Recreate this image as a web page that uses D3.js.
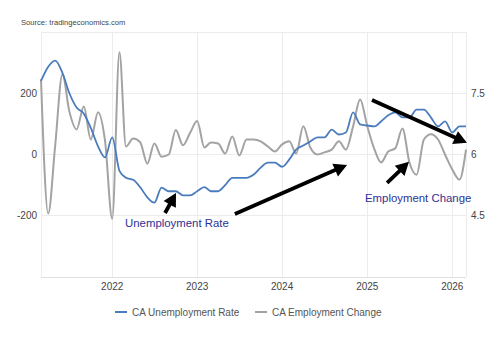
<!DOCTYPE html>
<html><head><meta charset="utf-8">
<script src="https://cdn.jsdelivr.net/npm/d3@7"></script>
<style>body{margin:0;background:#fff;}svg{display:block;font-family:"Liberation Sans",Arial,sans-serif;}</style>
</head><body>
<svg id="c" width="497" height="339"></svg>
<script>
const startMonth = "2021-03";
const unemploymentRate = [7.8,8.15,8.3,8.0,7.5,7.15,7.0,6.65,6.2,5.93,
 6.42,5.6,5.43,5.38,5.2,4.95,4.82,5.19,5.1,5.1,5.0,5.0,
 5.1,5.2,5.1,5.1,5.25,5.43,5.43,5.43,5.51,5.68,5.8,5.8,
 5.7,5.88,6.12,6.22,6.32,6.42,6.42,6.61,6.49,6.54,7.03,6.74,
 6.71,6.69,6.81,6.96,7.03,6.91,6.91,7.1,7.1,6.91,6.69,6.81,
 6.54,6.69,6.69];
const employmentChange = [246,-193,30,262,140,82,157,49,138,45,
 -210,334,26,52,40,-30,36,-7,0,80,30,70,
 109,23,39,36,3,59,-3,49,49,43,26,10,
 33,43,3,92,23,0,7,16,43,16,92,180,
 92,16,-26,10,20,85,-26,-66,49,66,49,0,
 -49,-82,16];
const leftTicks = [-200, 0, 200];
const rightTicks = [4.5, 6, 7.5];
const yearTicks = [2022, 2023, 2024, 2025, 2026];
const seriesNames = ["CA Unemployment Rate", "CA Employment Change"];
const annotations = [
  {text:"Unemployment Rate", date:"2022-02-25", value:-237},
  {text:"Employment Change", date:"2024-12-22", value:-155}
];
const arrows = [
  {from:["2022-08-16",-191], to:["2022-10-02",-126]},
  {from:["2023-06-12",-194], to:["2024-10-06",-34]},
  {from:["2025-03-27",-93], to:["2025-06-29",-24]},
  {from:["2025-01-21",178], to:["2026-03-05",38]}
];

const svg = d3.select("#c");
const parseM = d3.timeParse("%Y-%m");
const parseD = d3.timeParse("%Y-%m-%d");
const t0 = parseM(startMonth);
const dates = unemploymentRate.map((_, i) => d3.timeMonth.offset(t0, i));

const L = 41, R = 466, T = 32, B = 277;
const x = d3.scaleTime().domain([dates[0], dates[dates.length-1]]).range([L, R]);
const yL = d3.scaleLinear().domain([-400, 400]).range([B, T]);
const yR = d3.scaleLinear().domain([3, 9]).range([B, T]);

// source
svg.append("text").attr("x", 21).attr("y", 25).attr("font-size", 7.6).attr("fill", "#444")
  .text("Source: tradingeconomics.com");

// grid
const g = svg.append("g");
g.selectAll(".hg").data([-400,-200,0,200,400]).join("line")
  .attr("x1", L).attr("x2", R).attr("y1", d => yL(d)).attr("y2", d => yL(d))
  .attr("stroke", d => d === -400 ? "#e0e0e0" : "#ececec").attr("stroke-width", 1).attr("shape-rendering","crispEdges");
const yearDates = yearTicks.map(y => new Date(y, 0, 1));
g.selectAll(".vg").data([dates[0], ...yearDates, dates[dates.length-1]]).join("line")
  .attr("y1", T).attr("y2", B).attr("x1", d => x(d)).attr("x2", d => x(d))
  .attr("stroke", "#ececec").attr("stroke-width", 1).attr("shape-rendering","crispEdges");

// axes labels
svg.append("g").selectAll("text").data(leftTicks).join("text")
  .attr("x", 37).attr("y", d => yL(d) + 3.5).attr("text-anchor", "end")
  .attr("font-size", 10).attr("fill", "#444").text(d => d);
svg.append("g").selectAll("text").data(rightTicks).join("text")
  .attr("x", 471).attr("y", d => yR(d) + 3.5).attr("text-anchor", "start")
  .attr("font-size", 10).attr("fill", "#444").text(d => d);
svg.append("g").selectAll("text").data(yearDates).join("text")
  .attr("x", d => x(d)).attr("y", 290).attr("text-anchor", "middle")
  .attr("font-size", 10).attr("fill", "#444").text(d => d.getFullYear());

// lines
const lineR = d3.line().x((d, i) => x(dates[i])).y(d => yR(d)).curve(d3.curveMonotoneX);
const lineL = d3.line().x((d, i) => x(dates[i])).y(d => yL(d)).curve(d3.curveMonotoneX);
svg.append("path").attr("d", lineL(employmentChange)).attr("fill", "none")
  .attr("stroke", "#a3a3a3").attr("stroke-width", 2);
svg.append("path").attr("d", lineR(unemploymentRate)).attr("fill", "none")
  .attr("stroke", "#4a7bbd").attr("stroke-width", 1.8);

// arrows
function arrowPath(x1, y1, x2, y2) {
  const dx = x2 - x1, dy = y2 - y1, len = Math.hypot(dx, dy);
  const ux = dx / len, uy = dy / len, px = -uy, py = ux;
  const hl = 13, hw = 7, sw = 1.9;
  const bx = x2 - ux * hl, by = y2 - uy * hl;
  const pts = [
    [x1 + px*sw, y1 + py*sw], [bx + px*sw, by + py*sw], [bx + px*hw, by + py*hw],
    [x2, y2], [bx - px*hw, by - py*hw], [bx - px*sw, by - py*sw], [x1 - px*sw, y1 - py*sw]
  ];
  return "M" + pts.map(p => p.join(",")).join("L") + "Z";
}
svg.append("g").selectAll("path").data(arrows).join("path")
  .attr("d", d => arrowPath(x(parseD(d.from[0])), yL(d.from[1]), x(parseD(d.to[0])), yL(d.to[1])))
  .attr("fill", "#000");

svg.append("g").selectAll("text").data(annotations).join("text")
  .attr("x", d => x(parseD(d.date))).attr("y", d => yL(d.value))
  .attr("font-size", 11.4).attr("fill", "#2e3192").text(d => d.text);

// legend
const leg = svg.append("g");
const legItems = [{name: seriesNames[0], color:"#4a7bbd", x:115}, {name: seriesNames[1], color:"#a3a3a3", x:255}];
legItems.forEach(it => {
  leg.append("line").attr("x1", it.x).attr("x2", it.x + 12).attr("y1", 312).attr("y2", 312)
    .attr("stroke", it.color).attr("stroke-width", 2);
  leg.append("text").attr("x", it.x + 17).attr("y", 315.5).attr("font-size", 10)
    .attr("fill", "#555").text(it.name);
});
</script>
</body></html>
